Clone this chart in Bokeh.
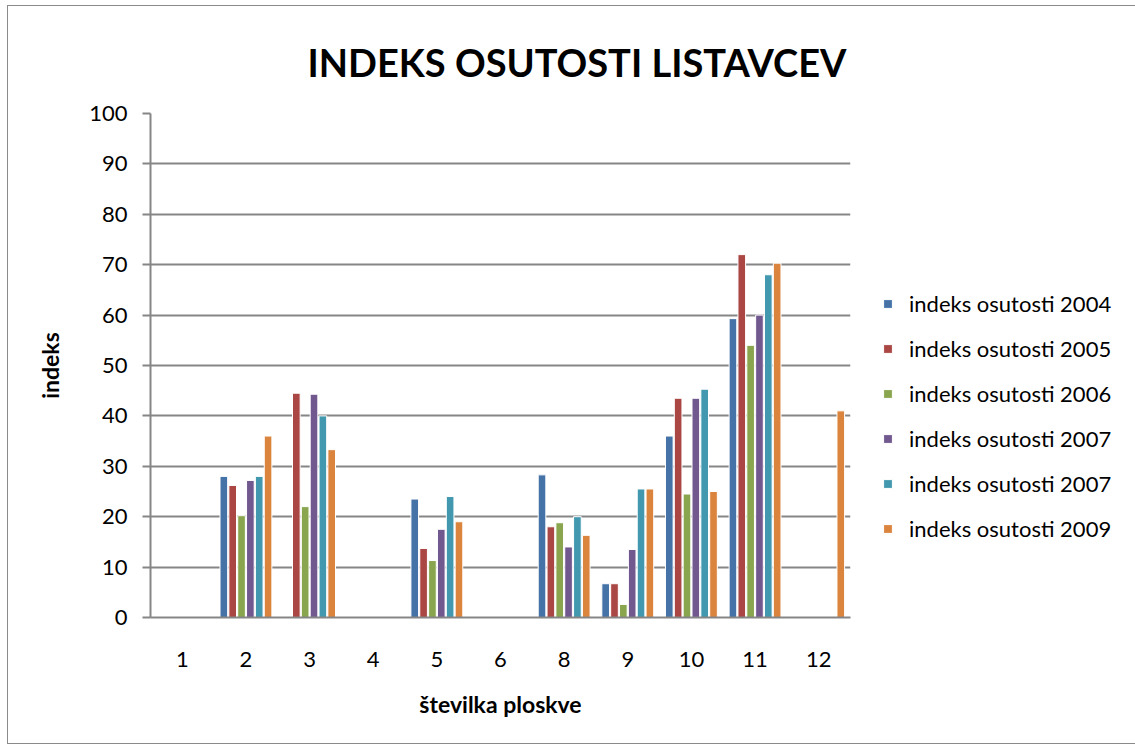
import numpy as np
from bokeh.plotting import figure
from bokeh.models import ColumnDataSource, FactorRange, Legend, LegendItem, Title, SingleIntervalTicker
from bokeh.transform import dodge
from bokeh.embed import file_html
from bokeh.resources import INLINE

nan = np.nan
categories = ["1", "2", "3", "4", "5", "6", "8", "9", "10", "11", "12"]
series_names = ["indeks osutosti 2004", "indeks osutosti 2005", "indeks osutosti 2006",
                "indeks osutosti 2007", "indeks osutosti 2007", "indeks osutosti 2009"]
s2004 = [nan, 28.0, nan, nan, 23.5, nan, 28.3, 6.7, 36.0, 59.3, nan]
s2005 = [nan, 26.2, 44.5, nan, 13.7, nan, 18.0, 6.7, 43.5, 72.0, nan]
s2006 = [nan, 20.2, 22.0, nan, 11.3, nan, 18.8, 2.6, 24.5, 54.0, nan]
s2007 = [nan, 27.2, 44.3, nan, 17.5, nan, 14.0, 13.5, 43.5, 60.0, nan]
s2007b = [nan, 28.0, 40.0, nan, 24.0, nan, 20.0, 25.5, 45.3, 68.0, nan]
s2009 = [nan, 36.0, 33.3, nan, 19.0, nan, 16.3, 25.5, 25.0, 70.3, 41.0]
colors = ["#4572A7", "#AA4643", "#89A54E", "#71588F", "#4198AF", "#DB843D"]

series = [s2004, s2005, s2006, s2007, s2007b, s2009]
data = {"cat": categories}
for i, s in enumerate(series):
    data[f"s{i}"] = s
src = ColumnDataSource(data)

p = figure(x_range=FactorRange(*categories), y_range=(0, 100),
           frame_width=700, frame_height=504,
           output_backend="svg", toolbar_location=None,
           min_border_left=142, min_border_right=281, min_border_top=107, min_border_bottom=126)
p.outline_line_color = None
p.styles = {"border": "1px solid #8a8a8a", "margin-left": "7px", "margin-top": "5px"}

renderers = []
slot = 0.139
for i in range(6):
    r = p.vbar(x=dodge("cat", (i - 2.5) * slot, range=p.x_range), top=f"s{i}", width=0.12,
               source=src, fill_color=colors[i], line_color="white", line_width=1)
    renderers.append(r)

p.title = Title(text="INDEKS OSUTOSTI LISTAVCEV", text_font="Lato", text_font_size="38px",
                text_font_style="bold", text_color="black", align="left", offset=157, standoff=58)

p.yaxis.ticker = SingleIntervalTicker(interval=10)
p.yaxis.minor_tick_line_color = None
p.yaxis.major_tick_out = 8
p.yaxis.major_tick_in = 0
p.yaxis.major_tick_line_color = "#868686"
p.yaxis.major_tick_line_width = 2
p.yaxis.axis_line_color = "#868686"
p.yaxis.axis_line_width = 2
p.yaxis.major_label_text_font = "Lato"
p.yaxis.major_label_text_font_size = "22px"
p.yaxis.major_label_text_color = "black"
p.yaxis.major_label_standoff = 15
p.yaxis.axis_label = "indeks"
p.yaxis.axis_label_text_font = "Lato"
p.yaxis.axis_label_text_font_style = "bold"
p.yaxis.axis_label_text_font_size = "23px"
p.yaxis.axis_label_text_color = "black"
p.yaxis.axis_label_standoff = 22

p.xaxis.major_tick_line_color = None
p.xaxis.axis_line_color = "#868686"
p.xaxis.axis_line_width = 2
p.xaxis.major_label_text_font = "Lato"
p.xaxis.major_label_text_font_size = "22px"
p.xaxis.major_label_text_color = "black"
p.xaxis.major_label_standoff = 28
p.xaxis.axis_label = "številka ploskve"
p.xaxis.axis_label_text_font = "Lato"
p.xaxis.axis_label_text_font_style = "bold"
p.xaxis.axis_label_text_font_size = "23px"
p.xaxis.axis_label_text_color = "black"
p.xaxis.axis_label_standoff = 20

p.xgrid.grid_line_color = None
p.ygrid.grid_line_color = "#868686"
p.ygrid.grid_line_width = 2

items = [LegendItem(label=series_names[i], renderers=[renderers[i]]) for i in range(6)]
legend = Legend(items=items, location=(32, 75), orientation="vertical",
                label_text_font="Lato", label_text_font_size="22px", label_text_color="black",
                glyph_width=11, glyph_height=11, label_height=20, spacing=18,
                padding=0, margin=0, border_line_color=None, background_fill_alpha=0,
                label_standoff=16)
p.add_layout(legend, "right")

open("out.html", "w").write(file_html(p, INLINE))
